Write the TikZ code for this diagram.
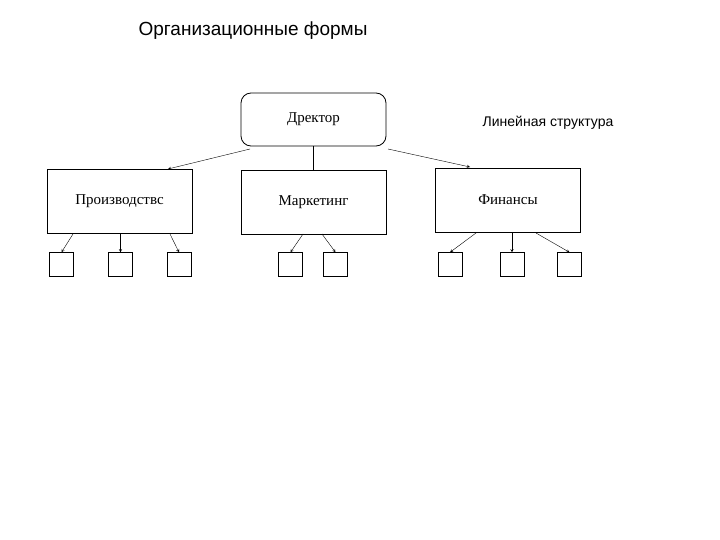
\documentclass[tikz,border=0pt]{standalone}
\usepackage{fontspec}
\setmainfont{Liberation Serif}
\newfontfamily\sansf{Liberation Sans}
\begin{document}
\begin{tikzpicture}[x=1pt,y=-1pt,
 bx/.style={draw,thick,minimum width=145pt,minimum height=64pt,font=\fontsize{15}{17}\selectfont},
 sb/.style={draw,minimum width=24pt,minimum height=24pt,inner sep=0pt},
 ar/.style={->,>=stealth,thin}]
\useasboundingbox (0,0) rectangle (720,540);
\node[font=\sansf\fontsize{19}{22}\selectfont] (t) at (253,31) {Организационные формы};
\node[font=\sansf\fontsize{14}{16}\selectfont] (l) at (548,123) {Линейная структура};
\node[bx,rounded corners=10pt,minimum height=53pt] (d) at (313.5,119.5) {Дректор};
\node[bx] (p) at (119.5,201) {Производствс};
\node[bx] (m) at (313.5,202) {Маркетинг};
\node[bx] (f) at (508,200) {Финансы};
\draw[ar] (250,149) -- (168,169);
\draw[ar] (388,149) -- (470,167);
\draw[thick] (d.south) -- (m.north);
\foreach \n/\x in {a/61.5,b/120.5,c/179,d/290.5,e/335.5,f/450,g/512,h/569.5}
  \node[sb] (s\n) at (\x,264.5) {};
\draw[ar] (73,234) -- (sa.north);
\draw[ar] (120.5,234) -- (sb.north);
\draw[ar] (170,234) -- (sc.north);
\draw[ar] (303,234) -- (sd.north);
\draw[ar] (322,234) -- (se.north);
\draw[ar] (476,233) -- (sf.north);
\draw[ar] (512,233) -- (sg.north);
\draw[ar] (536,233) -- (sh.north);
\end{tikzpicture}
\end{document}
